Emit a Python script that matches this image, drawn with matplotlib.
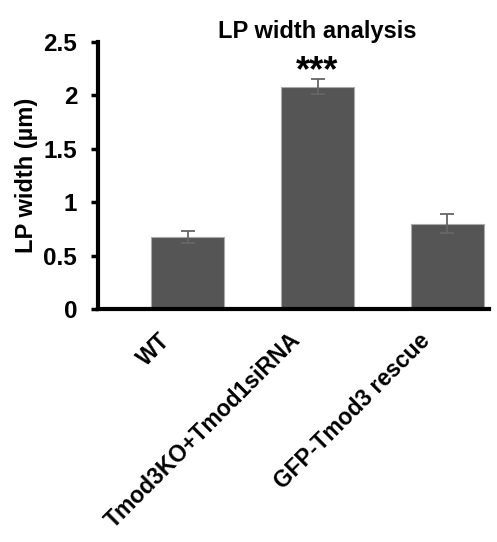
import matplotlib
matplotlib.use("Agg")
import matplotlib.pyplot as plt
import numpy as np

plt.rcParams['font.family'] = ['Liberation Sans', 'DejaVu Sans']
plt.rcParams['font.weight'] = 'bold'

groups = ['WT', 'Tmod3KO+Tmod1siRNA', 'GFP-Tmod3 rescue']
widths = [0.675, 2.08, 0.80]
errs = [0.06, 0.07, 0.09]
yticks = [0, 0.5, 1, 1.5, 2, 2.5]
ytick_labels = ['0', '0.5', '1', '1.5', '2', '2.5']

fig = plt.figure(figsize=(4.97, 5.42), dpi=100)
ax = fig.add_axes([98 / 497, 1 - 309 / 542, (489 - 98) / 497, (309 - 42) / 542])

x = np.arange(len(groups))
ax.bar(x, widths, width=0.56, color='#555555', edgecolor='#aaaaaa',
       linewidth=0.8, zorder=2)
ax.errorbar(x, widths, yerr=errs, fmt='none', ecolor='#666666',
            elinewidth=1.3, capsize=5, capthick=1.3, zorder=3)

ax.set_xlim(-0.69, 2.32)
ax.set_ylim(0, 2.5)
ax.set_yticks(yticks)
ax.set_yticklabels(ytick_labels, fontsize=17.5, fontweight='bold')
ax.set_xticks(x)
ax.set_xticklabels([])
ax.tick_params(axis='x', length=0)
ax.tick_params(axis='y', length=5, width=2.5, pad=10)

# rotated category labels, placed under each bar
for xi, g in zip(x, groups):
    ax.annotate(g, (xi, 0), xytext=(-15, -20), textcoords='offset points',
                rotation=45, ha='right', va='center', rotation_mode='anchor',
                fontsize=16.5, fontweight='bold', annotation_clip=False)

for s in ['top', 'right']:
    ax.spines[s].set_visible(False)
ax.spines['left'].set_linewidth(3)
ax.spines['bottom'].set_linewidth(3)

ax.set_ylabel('LP width (µm)', fontsize=17, fontweight='bold', labelpad=4)
ax.text(1, 2.49, 'LP width analysis', ha='center', va='bottom',
        fontsize=17, fontweight='bold')
ax.text(1, 2.06, '***', ha='center', va='bottom', fontsize=26, fontweight='bold')

fig.savefig('out.png', dpi=100)
